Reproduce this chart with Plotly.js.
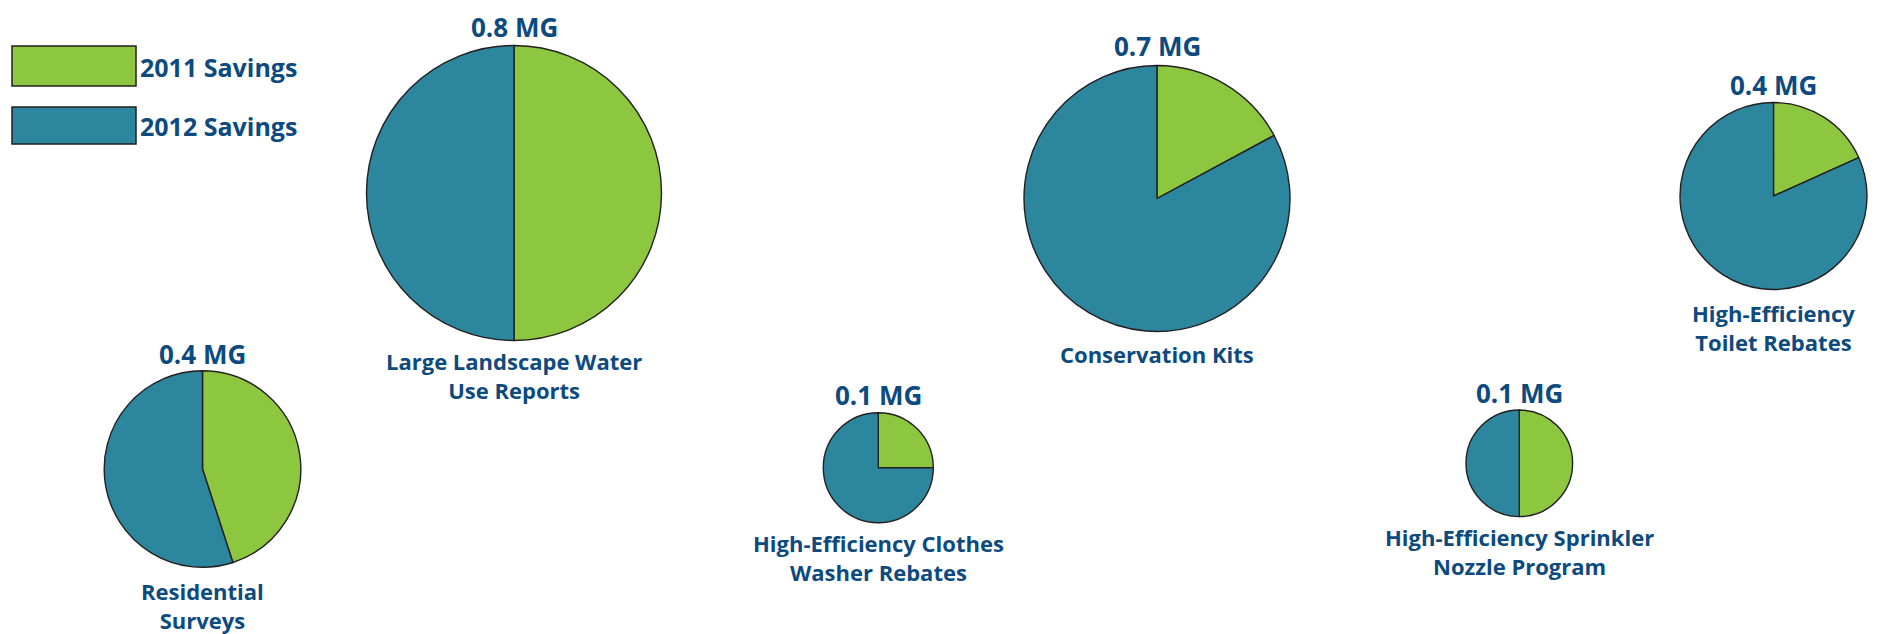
<!DOCTYPE html>
<html>
<head>
<meta charset="utf-8">
<script src="https://cdn.plot.ly/plotly-3.0.1.min.js"></script>
<style>
  html, body { margin: 0; padding: 0; background: #ffffff; }
  #chart { width: 1882px; height: 634px; }
</style>
</head>
<body>
<div id="chart"></div>
<script>
// ---- data ----
const programs = [
  "Large Landscape Water<br>Use Reports",
  "Conservation Kits",
  "High-Efficiency<br>Toilet Rebates",
  "Residential<br>Surveys",
  "High-Efficiency Clothes<br>Washer Rebates",
  "High-Efficiency Sprinkler<br>Nozzle Program"
];
const seriesNames = ["2011 Savings", "2012 Savings"];
const savings2011 = [0.40, 0.12, 0.073, 0.18, 0.025, 0.05];
const savings2012 = [0.40, 0.58, 0.327, 0.22, 0.075, 0.05];
const unit = "MG";

// ---- layout (pixel positions of each pie: centre x, centre y, radius) ----
const W = 1882, H = 634;
const pieGeom = [
  [514, 193, 147.5],
  [1157, 198.5, 133],
  [1773.5, 196, 93.5],
  [202.5, 469, 98.3],
  [878.3, 467.7, 55],
  [1519.3, 463.3, 53.3]
];
const topLabelY = [27, 46, 85, 354, 395, 393];
const bottomLabelY = [375.5, 354, 327, 605, 557, 551];

const colors = ["#8dc63f", "#2c869e"];
const textColor = "#0d4a7e";
const fontFam = "'Open Sans', Lato, sans-serif";
const fsLabel = 22, fsTop = 26, fsLegend = 25;

const px = x => x / W;
const py = y => 1 - y / H;

const traces = programs.map((p, i) => {
  const [cx, cy, r] = pieGeom[i];
  return {
    type: "pie",
    name: p.replace("<br>", " "),
    labels: seriesNames,
    values: [savings2011[i], savings2012[i]],
    sort: false,
    direction: "clockwise",
    rotation: 0,
    textinfo: "none",
    hoverinfo: "label+value",
    marker: { colors: colors, line: { color: "#231f20", width: 1.4 } },
    domain: { x: [px(cx - r), px(cx + r)], y: [py(cy + r), py(cy - r)] },
    showlegend: false
  };
});

const annotations = [];
programs.forEach((p, i) => {
  const [cx] = pieGeom[i];
  const total = (savings2011[i] + savings2012[i]).toFixed(1);
  annotations.push({
    xref: "paper", yref: "paper", x: px(cx), y: py(topLabelY[i]),
    xanchor: "center", yanchor: "middle", showarrow: false,
    text: "<b>" + total + " " + unit + "</b>",
    font: { family: fontFam, size: fsTop, color: textColor }
  });
  annotations.push({
    xref: "paper", yref: "paper", x: px(cx), y: py(bottomLabelY[i]),
    xanchor: "center", yanchor: "middle", showarrow: false, align: "center",
    text: "<b>" + p + "</b>",
    font: { family: fontFam, size: fsLabel, color: textColor }
  });
});

// custom legend
const legendBoxes = [[12, 46, 136, 86], [12, 107, 136, 144]];
const legendTextY = [66.5, 126.5];
const shapes = [];
seriesNames.forEach((s, k) => {
  const [x0, y0, x1, y1] = legendBoxes[k];
  shapes.push({
    type: "rect", xref: "paper", yref: "paper",
    x0: px(x0), x1: px(x1), y0: py(y1), y1: py(y0),
    fillcolor: colors[k], line: { color: "#231f20", width: 1.5 }
  });
  annotations.push({
    xref: "paper", yref: "paper", x: px(138), y: py(legendTextY[k]),
    xanchor: "left", yanchor: "middle", showarrow: false,
    text: "<b>" + s + "</b>",
    font: { family: fontFam, size: fsLegend, color: textColor }
  });
});

const layout = {
  width: W, height: H,
  margin: { l: 0, r: 0, t: 0, b: 0 },
  paper_bgcolor: "#ffffff",
  showlegend: false,
  annotations: annotations,
  shapes: shapes
};

Plotly.newPlot("chart", traces, layout, { displayModeBar: false, staticPlot: false });
</script>
</body>
</html>
